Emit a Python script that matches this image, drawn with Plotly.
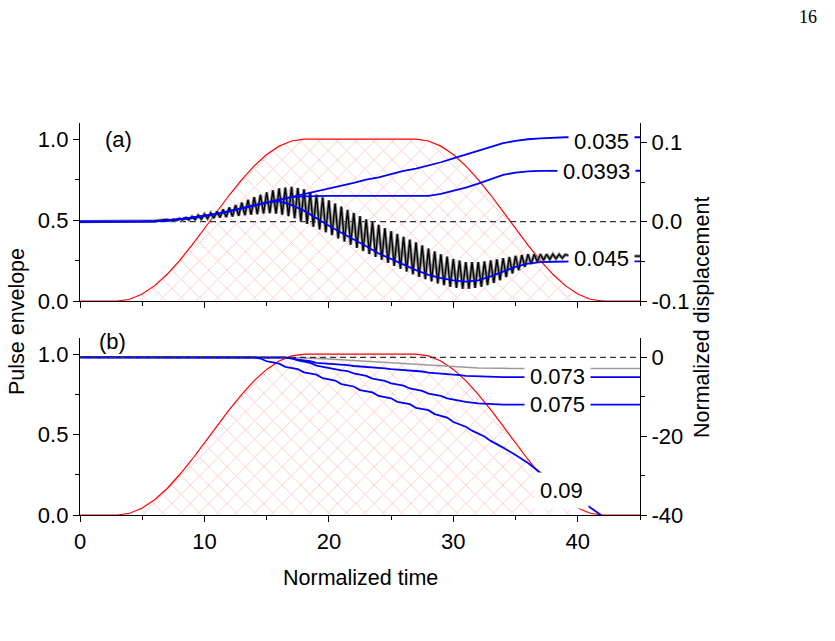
import plotly.graph_objects as go
import numpy as np

# ---------------- data ----------------
# pulse envelope (both panels), sampled at integer normalized time
t_env = list(range(0, 46))
envelope = [0, 0, 0, 0, 0.011, 0.043, 0.095, 0.165, 0.25, 0.345, 0.448, 0.552, 0.655, 0.75,
            0.835, 0.905, 0.957, 0.989, 1.0, 1.0, 1.0, 1.0, 1.0, 1.0, 1.0, 1.0, 1.0, 1.0,
            0.989, 0.957, 0.905, 0.835, 0.75, 0.655, 0.552, 0.448, 0.345, 0.25, 0.165,
            0.095, 0.043, 0.011, 0, 0, 0, 0]

# panel (a): normalized displacement of blue curves at integer time
t_a = list(range(0, 46))
disp_a_0035 = [0, 0, 0, 0, 0, 0, 0.0005, 0.0015, 0.003, 0.005, 0.0075, 0.010, 0.0135, 0.017,
               0.021, 0.024, 0.028, 0.031, 0.035, 0.038, 0.042, 0.045, 0.049, 0.053, 0.056,
               0.060, 0.064, 0.067, 0.071, 0.075, 0.080, 0.085, 0.090, 0.095, 0.099, 0.102,
               0.104, 0.105, 0.106, 0.1065, 0.1065, 0.1065, 0.1065, 0.1065, 0.1065, 0.1065]
disp_a_00393 = [0, 0, 0, 0, 0, 0, 0.0005, 0.0015, 0.003, 0.005, 0.0075, 0.010, 0.0135, 0.017,
                0.021, 0.024, 0.028, 0.031, 0.032, 0.0325, 0.0325, 0.0325, 0.0325, 0.0325,
                0.0325, 0.0325, 0.0325, 0.0325, 0.0325, 0.035, 0.039, 0.043, 0.048, 0.054,
                0.059, 0.062, 0.0635, 0.064, 0.0643, 0.0643, 0.0643, 0.0643, 0.0643, 0.0643,
                0.0643, 0.0643]
disp_a_0045 = [0, 0, 0, 0, 0, 0, 0.0005, 0.0015, 0.003, 0.005, 0.0075, 0.010, 0.0135, 0.017,
               0.021, 0.024, 0.026, 0.021, 0.014, 0.004, -0.005, -0.014, -0.022, -0.031,
               -0.040, -0.047, -0.055, -0.061, -0.067, -0.071, -0.074, -0.0755, -0.074,
               -0.069, -0.063, -0.057, -0.053, -0.051, -0.0505, -0.050, -0.050, -0.050,
               -0.050, -0.050, -0.050, -0.050]

# panel (a): fast oscillating (black) curve
t_black_start = [0, 1, 2, 3, 4, 5, 6]
black_start = [0, 0, 0, 0, 0, 0.0005, 0.001]
black_peaks = [0.0025, 0.003, 0.004, 0.005, 0.0065, 0.008, 0.0095, 0.011, 0.013, 0.0155,
               0.018, 0.021, 0.024, 0.0275, 0.031, 0.034, 0.037, 0.0395, 0.042, 0.043,
               0.044, 0.0425, 0.041, 0.0375, 0.034, 0.0305, 0.027, 0.023, 0.019, 0.015,
               0.011, 0.007, 0.003, -0.0005, -0.004, -0.008, -0.012, -0.0155, -0.019,
               -0.0225, -0.026, -0.030, -0.034, -0.0375, -0.041, -0.044, -0.047, -0.049,
               -0.051, -0.051, -0.051, -0.050, -0.049, -0.0475, -0.046, -0.0445, -0.043,
               -0.042, -0.041, -0.041, -0.041, -0.041, -0.041, -0.0412, -0.0415]
black_troughs = [0.0016, 0.0019, 0.0021, 0.0024, 0.0028, 0.0033, 0.0039, 0.0046, 0.0053,
                 0.0058, 0.0065, 0.0075, 0.0083, 0.0088, 0.0095, 0.0105, 0.0108, 0.0103,
                 0.009, 0.007, 0.0043, 0.0008, -0.0028, -0.0063, -0.0098, -0.0133, -0.017,
                 -0.021, -0.025, -0.029, -0.033, -0.037, -0.0408, -0.0443, -0.048, -0.052,
                 -0.0558, -0.0593, -0.0628, -0.0663, -0.0695, -0.0725, -0.0753, -0.0778,
                 -0.080, -0.082, -0.0835, -0.0845, -0.0845, -0.0835, -0.082, -0.080,
                 -0.0773, -0.0738, -0.0698, -0.0653, -0.061, -0.057, -0.0535, -0.0505,
                 -0.0485, -0.0475, -0.0466, -0.0459]
t_black_end = [39.5, 45]
black_end = [-0.0435, -0.0435]
osc_first_time = 7.0
osc_half_period = 0.25

# panel (b)
t_b_gray = [0, 16, 17, 18, 20, 22, 24, 26, 28, 30, 32, 34, 36, 45]
disp_b_gray = [0, 0, -0.1, -0.2, -0.4, -0.8, -1.2, -1.6, -2.0, -2.4, -2.7, -2.8, -2.85, -2.85]

t_b_0073 = [0, 16.5, 17, 17.5, 18, 18.5, 19, 19.5, 20, 20.5, 21, 21.5, 22, 22.5, 23, 23.5,
            24, 24.5, 25, 25.5, 26, 26.5, 27, 27.5, 28, 28.5, 29, 29.5, 30, 30.5, 31, 32,
            33, 34, 45]
disp_b_0073 = [0, 0, -0.2, -0.6, -0.8, -1.0, -1.4, -1.5, -1.6, -1.8, -1.9, -2.0, -2.2, -2.3,
               -2.4, -2.6, -2.7, -2.8, -3.0, -3.1, -3.2, -3.4, -3.5, -3.6, -3.9, -4.0, -4.1,
               -4.3, -4.4, -4.5, -4.7, -4.85, -4.95, -5.0, -5.0]

t_b_0075 = [0, 16, 16.5, 17, 17.5, 18, 18.5, 19, 19.5, 20, 20.5, 21, 21.5, 22, 22.5, 23,
            23.5, 24, 24.5, 25, 25.5, 26, 26.5, 27, 27.5, 28, 28.5, 29, 29.5, 30, 30.5, 31,
            32, 33, 34, 45]
disp_b_0075 = [0, 0, -0.1, -0.3, -0.8, -1.1, -1.4, -2.1, -2.4, -2.7, -3.1, -3.3, -3.5, -4.1,
               -4.4, -4.7, -5.4, -5.7, -6.0, -6.6, -6.9, -7.2, -7.9, -8.2, -8.5, -9.2, -9.5,
               -9.8, -10.4, -10.7, -11.0, -11.3, -11.7, -11.9, -12.0, -12.0]

t_b_009 = [0, 14, 14.5, 15, 15.5, 16, 16.5, 17, 17.5, 18, 18.5, 19, 19.5, 20, 20.5, 21,
           21.5, 22, 22.5, 23, 23.5, 24, 24.5, 25, 25.5, 26, 26.5, 27, 27.5, 28, 28.5, 29,
           29.5, 30, 30.5, 31, 31.5, 32, 32.5, 33, 33.5, 34, 35, 36, 37, 38, 39, 40, 41, 42]
disp_b_009 = [0, 0, -0.3, -1.0, -1.3, -1.6, -2.4, -2.7, -3.0, -3.8, -4.1, -4.4, -5.3, -5.6,
              -5.9, -6.8, -7.1, -7.4, -8.3, -8.6, -8.9, -9.8, -10.1, -10.4, -11.3, -11.6,
              -11.9, -12.8, -13.1, -13.4, -14.4, -14.8, -15.3, -16.4, -17.0, -17.6, -18.6,
              -19.3, -20.1, -21.2, -22.0, -22.9, -24.8, -26.8, -29.3, -31.5, -33.7, -35.9,
              -38.1, -40.3]

labels_a = ["0.035", "0.0393", "0.045"]
labels_a_pos = [(41.9, 0.1018), (41.5, 0.063), (41.9, -0.047)]
labels_b = ["0.073", "0.075", "0.09"]
labels_b_pos = [(38.4, -4.75), (38.4, -11.9), (38.7, -33.7)]

# --------------- build ---------------
t_osc, v_osc = [], []
for k in range(len(black_peaks)):
    t_osc.append(osc_first_time + 2 * k * osc_half_period)
    v_osc.append(black_peaks[k])
    if k < len(black_troughs):
        t_osc.append(osc_first_time + (2 * k + 1) * osc_half_period)
        v_osc.append(black_troughs[k])
t_black = t_black_start + t_osc + t_black_end
v_black = black_start + v_osc + black_end

FONT = "Liberation Sans, Arial, sans-serif"
RED = "#ff0000"
BLUE = "#0000ff"

fig = go.Figure()

hatch = dict(shape="x", fgcolor="rgba(255,40,40,0.5)", bgcolor="rgba(0,0,0,0)",
             size=13, solidity=0.14)

for xa, ya in (("x2", "y3"), ("x", "y")):
    fig.add_trace(go.Scatter(x=t_env, y=envelope, xaxis=xa, yaxis=ya, mode="lines",
                             line=dict(color=RED, width=1.2), fill="tozeroy",
                             fillcolor="rgba(0,0,0,0)", fillpattern=hatch,
                             hoverinfo="skip", showlegend=False))

# panel (a) curves (right axis y4)
fig.add_trace(go.Scatter(x=[0, 45], y=[0, 0], xaxis="x2", yaxis="y4", mode="lines",
                         line=dict(color="#333333", width=1.2, dash="6px,4px"), showlegend=False))
fig.add_trace(go.Scatter(x=t_black, y=v_black, xaxis="x2", yaxis="y4", mode="lines",
                         line=dict(color="#8a8a8a", width=3.2), showlegend=False))
fig.add_trace(go.Scatter(x=t_black, y=v_black, xaxis="x2", yaxis="y4", mode="lines",
                         line=dict(color="#000000", width=1.3), showlegend=False))
for arr in (disp_a_0035, disp_a_00393, disp_a_0045):
    fig.add_trace(go.Scatter(x=t_a, y=arr, xaxis="x2", yaxis="y4", mode="lines",
                             line=dict(color=BLUE, width=1.8), showlegend=False))

# panel (b) curves (right axis y2)
fig.add_trace(go.Scatter(x=t_b_gray, y=disp_b_gray, xaxis="x", yaxis="y2", mode="lines",
                         line=dict(color="#9a9a9a", width=1.5), showlegend=False))
for tt, arr in ((t_b_0073, disp_b_0073), (t_b_0075, disp_b_0075), (t_b_009, disp_b_009)):
    fig.add_trace(go.Scatter(x=tt, y=arr, xaxis="x", yaxis="y2", mode="lines",
                             line=dict(color=BLUE, width=1.8), showlegend=False))
fig.add_trace(go.Scatter(x=[0, 45], y=[0, 0], xaxis="x", yaxis="y2", mode="lines",
                         line=dict(color="#333333", width=1.2, dash="6px,4px"), showlegend=False))

W, H = 835, 641
ML, MR, MT, MB = 80, 195, 123, 126
PW, PH = W - ML - MR, H - MT - MB


def px(x):
    return (x - ML) / PW


def py(y):
    return (H - MB - y) / PH


tickfont = dict(family=FONT, size=22, color="black")
common = dict(showgrid=False, zeroline=False, showline=True, linecolor="black", linewidth=1.3,
              ticks="outside", ticklen=6, tickwidth=1.3, tickcolor="black", tickfont=tickfont)
minor = lambda **kw: dict(ticks="outside", ticklen=3.5, tickwidth=1.3, tickcolor="black", **kw)

dom_a = [py(301), 1.0]
dom_b = [0.0, py(338)]

fig.update_layout(
    width=W, height=H, margin=dict(l=ML, r=MR, t=MT, b=MB),
    paper_bgcolor="white", plot_bgcolor="white", showlegend=False,
    font=dict(family=FONT, color="black"),
    xaxis=dict(domain=[0, 1], anchor="y", range=[0, 45], tickmode="linear", tick0=0, dtick=10,
               minor=minor(dtick=5), **common),
    xaxis2=dict(domain=[0, 1], anchor="y3", range=[0, 45], tickmode="linear", tick0=0,
                dtick=10, showticklabels=False, minor=minor(dtick=5), **common),
    yaxis=dict(domain=dom_b, anchor="x", range=[0, 1.1], tickvals=[0, 0.5, 1.0],
               ticktext=["0.0", "0.5", "1.0"], minor=minor(tickvals=[0.25, 0.75]), **common),
    yaxis2=dict(overlaying="y", anchor="x", side="right", range=[-40, 4.9],
                tickvals=[-40, -20, 0], ticktext=["-40", "-20", "0"],
                minor=minor(tickvals=[-30, -10]), **common),
    yaxis3=dict(domain=dom_a, anchor="x2", range=[0, 1.1], tickvals=[0, 0.5, 1.0],
                ticktext=["0.0", "0.5", "1.0"], minor=minor(tickvals=[0.25, 0.75]), **common),
    yaxis4=dict(overlaying="y3", anchor="x2", side="right", range=[-0.1, 0.1245],
                tickvals=[-0.1, 0.0, 0.1], ticktext=["-0.1", "0.0", "0.1"],
                minor=minor(tickvals=[-0.05, 0.05]), **common),
)

ann = []
lab_font = dict(family=FONT, size=22, color="black")
title_font = dict(family=FONT, size=21.5, color="black")
C = dict(showarrow=False, xanchor="center", yanchor="middle")
for txt, (xx, yy) in zip(labels_a, labels_a_pos):
    ann.append(dict(x=xx, y=yy, xref="x2", yref="y4", text=txt, font=lab_font,
                    bgcolor="white", borderpad=5, **C))
for txt, (xx, yy) in zip(labels_b, labels_b_pos):
    ann.append(dict(x=xx, y=yy, xref="x", yref="y2", text=txt, font=lab_font,
                    bgcolor="white", borderpad=5, **C))
ann.append(dict(x=3.1, y=1.0, xref="x2", yref="y3", text="(a)", font=lab_font, **C))
ann.append(dict(x=2.6, y=1.08, xref="x", yref="y", text="(b)", font=lab_font, **C))
ann.append(dict(x=px(17), y=py(322), xref="paper", yref="paper", text="Pulse envelope",
                textangle=-90, font=title_font, **C))
ann.append(dict(x=px(702), y=py(318), xref="paper", yref="paper",
                text="Normalized displacement", textangle=-90, font=title_font, **C))
ann.append(dict(x=px(360), y=py(578), xref="paper", yref="paper", text="Normalized time",
                font=title_font, **C))
ann.append(dict(x=px(808), y=py(17), xref="paper", yref="paper", text="16",
                font=dict(family="Liberation Serif, DejaVu Serif, serif", size=18, color="black"),
                **C))
fig.update_layout(annotations=ann)

fig.write_html("out.html")
